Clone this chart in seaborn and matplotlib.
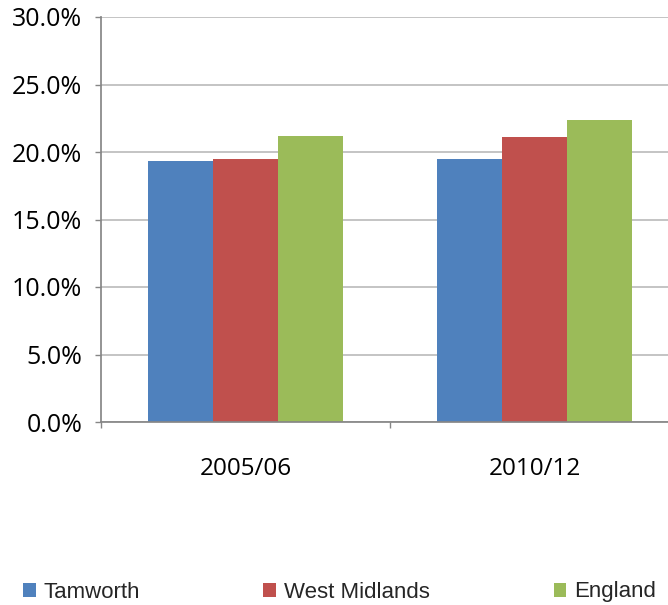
import pandas as pd
import seaborn as sns
import matplotlib.pyplot as plt
from matplotlib.ticker import FuncFormatter, FixedLocator
from matplotlib.patches import Patch

periods = ["2005/06", "2010/12"]
areas = ["Tamworth", "West Midlands", "England"]
tamworth = [19.3, 19.5]
west_midlands = [19.5, 21.1]
england = [21.2, 22.4]
colors = ["#4F81BD", "#C0504D", "#9BBB59"]

rows = []
for area, vals in zip(areas, [tamworth, west_midlands, england]):
    for p, v in zip(periods, vals):
        rows.append({"period": p, "area": area, "value": v})
df = pd.DataFrame(rows)

sns.set_theme(style="white")
plt.rcParams["font.family"] = ["Open Sans", "DejaVu Sans"]

fig = plt.figure(figsize=(6.68, 6.05), dpi=100)
ax = fig.add_axes([101 / 668, 1 - 422 / 605, 578 / 668, 405 / 605])

sns.barplot(data=df, x="period", y="value", hue="area", order=periods,
            hue_order=areas, palette=colors, width=0.675, gap=0,
            saturation=1, linewidth=0, ax=ax, legend=False)

ax.set_ylim(0, 30)
ax.set_xlim(-0.5, 1.5)
ax.set_yticks(range(0, 31, 5))
ax.yaxis.set_major_formatter(FuncFormatter(lambda v, _: f"{v:.1f}%"))
ax.yaxis.grid(True, color="#bfbfbf", linewidth=1.3)
ax.set_axisbelow(True)
ax.set_xlabel("")
ax.set_ylabel("")

for s in ["top", "right"]:
    ax.spines[s].set_visible(False)
ax.spines["left"].set_color("#868686")
ax.spines["bottom"].set_color("#868686")

ax.tick_params(axis="y", left=True, length=4.5, width=1, color="#868686",
               pad=9, labelsize=18, labelcolor="#000000")
ax.tick_params(axis="x", which="major", bottom=False, length=0, pad=25,
               labelsize=17.5, labelcolor="#000000")
ax.xaxis.set_minor_locator(FixedLocator([-0.5, 0.5, 1.5]))
ax.tick_params(axis="x", which="minor", bottom=True, length=4.5, width=1,
               color="#868686")

handles = [Patch(facecolor=c, edgecolor="none") for c in colors]
fig.legend(handles, areas, loc="center", bbox_to_anchor=(339.5 / 668, 1 - 592 / 605),
           ncol=3, frameon=False, handlelength=0.58, handleheight=0.58,
           handletextpad=0.36, columnspacing=5.55,
           prop={"family": "Liberation Sans", "size": 16})

fig.savefig("out.png", dpi=100)
